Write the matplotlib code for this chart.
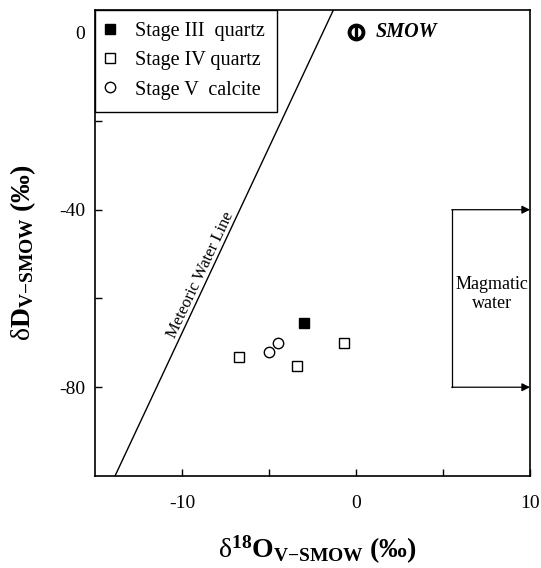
import numpy as np
import matplotlib
matplotlib.use('Agg')
import matplotlib.pyplot as plt

plt.rcParams['font.family'] = 'Liberation Serif'
plt.rcParams['mathtext.fontset'] = 'custom'
plt.rcParams['mathtext.rm'] = 'Liberation Serif'
plt.rcParams['mathtext.bf'] = 'Liberation Serif:bold'
plt.rcParams['mathtext.it'] = 'Liberation Serif:italic'

# data
stage3_o = [-3.0]
stage3_d = [-65.5]
stage4_o = [-6.7, -3.4, -0.7]
stage4_d = [-73.3, -75.3, -70.1]
stage5_o = [-5.0, -4.5]
stage5_d = [-72.1, -70.1]

# meteoric water line end points
mwl_o = [-13.85, -1.3]
mwl_d = [-100, 5]

# magmatic water range
mag_o = [5.5, 10]
mag_d = [-40, -80]

fig = plt.figure(figsize=(5.41, 5.68), dpi=100)
ax = fig.add_axes([0.1756, 0.162, 0.8041, 0.8204])

ax.plot(mwl_o, mwl_d, color='black', linewidth=1.0)

ax.plot(stage3_o, stage3_d, 's', color='black', markersize=7, label='Stage III  quartz')
ax.plot(stage4_o, stage4_d, 's', mfc='white', mec='black', mew=1.0, markersize=7,
        label='Stage IV quartz')
ax.plot(stage5_o, stage5_d, 'o', mfc='white', mec='black', mew=1.0, markersize=7.5,
        label='Stage V  calcite')

# SMOW
ax.plot(0, 0, 'o', mfc='white', mec='black', mew=2.8, markersize=10)
ax.plot(0, 0, '|', color='black', mew=2.4, markersize=10)
ax.text(1.1, 0, 'SMOW', fontsize=14.5, fontweight='bold', fontstyle='italic',
        va='center', ha='left')

# magmatic water box
for d in mag_d:
    ax.annotate('', xy=(mag_o[1], d), xytext=(mag_o[0], d),
                arrowprops=dict(arrowstyle='-|>', color='black', lw=0.9,
                                mutation_scale=12, shrinkA=0, shrinkB=0))
ax.plot([mag_o[0], mag_o[0]], mag_d, color='black', linewidth=0.9)
ax.text(7.8, -59, 'Magmatic\nwater', fontsize=13, ha='center', va='center',
        linespacing=1.1)

ax.set_xlim(-15, 10)
ax.set_ylim(-100, 5)

# label along the meteoric water line
p1 = ax.transData.transform((mwl_o[0], mwl_d[0]))
p2 = ax.transData.transform((mwl_o[1], mwl_d[1]))
angle = np.degrees(np.arctan2(p2[1] - p1[1], p2[0] - p1[0]))
lab_d = -55.5
lab_o = mwl_o[0] + (lab_d - mwl_d[0]) * (mwl_o[1] - mwl_o[0]) / (mwl_d[1] - mwl_d[0])
ax.text(lab_o, lab_d, 'Meteoric Water Line', fontsize=12, rotation=angle,
        rotation_mode='anchor', ha='center', va='bottom')

ax.set_xticks([-10, 0, 10])
ax.set_xticks([-5, 5], minor=True)
ax.set_yticks([-80, -40, 0])
ax.set_yticks([-60, -20], minor=True)
ax.tick_params(which='both', direction='in', length=5, width=1.0, labelsize=14)
ax.tick_params(axis='x', which='both', pad=14)
ax.tick_params(axis='y', which='both', pad=7)
ax.set_yticklabels(['-80', '-40', '0'])
ax.set_xticklabels(['-10', '0', '10'])
for s in ax.spines.values():
    s.set_linewidth(1.2)

leg = ax.legend(loc='upper left', borderaxespad=0, fancybox=False, framealpha=1,
                edgecolor='black', fontsize=14.5, handlelength=0.3, handletextpad=1.1,
                borderpad=0.6, labelspacing=0.5)
leg.get_frame().set_linewidth(1.0)

ax.set_xlabel(r'$\mathrm{δ}^{\mathbf{18}}\mathbf{O}_{\mathbf{V{-}SMOW}}\ \mathbf{(‰)}$', fontsize=20)
ax.set_ylabel(r'$\mathrm{δ}\mathbf{D}_{\mathbf{V{-}SMOW}}\ \mathbf{(‰)}$', fontsize=20)
ax.xaxis.set_label_coords(0.51, -0.125)
ax.yaxis.set_label_coords(-0.13, 0.48)

fig.savefig('out.png', dpi=100)
